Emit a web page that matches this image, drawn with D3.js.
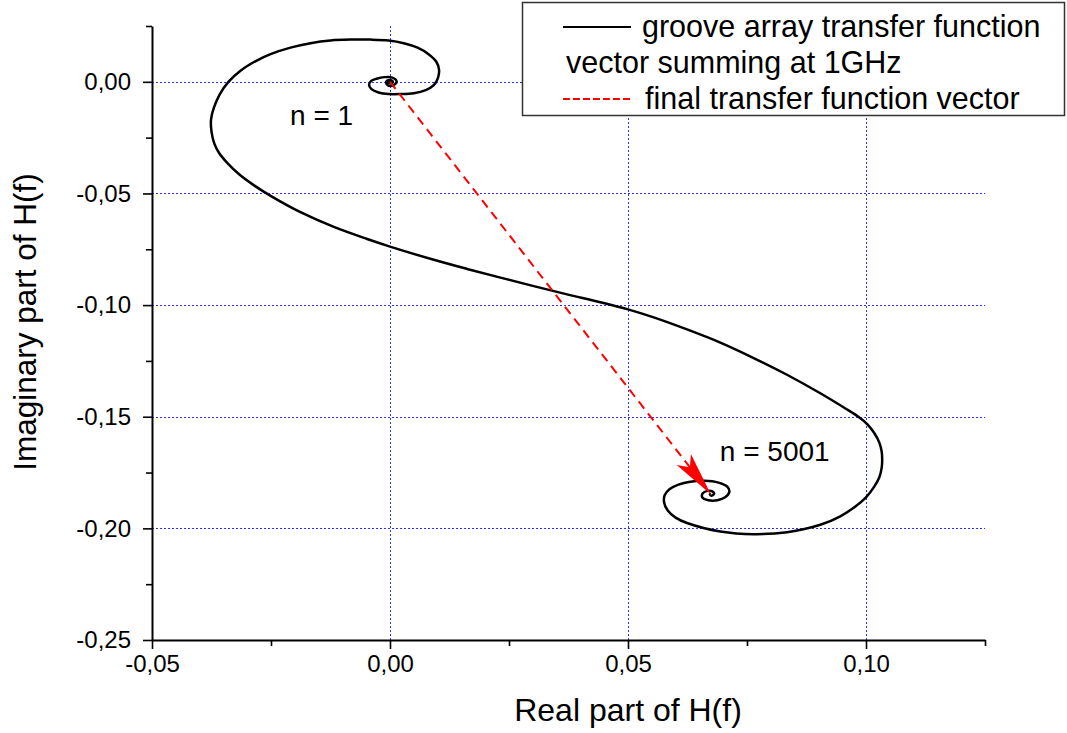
<!DOCTYPE html>
<html>
<head>
<meta charset="utf-8">
<script src="https://cdn.jsdelivr.net/npm/d3@7"></script>
<style>
  body { margin: 0; background: #fff; }
  svg { display: block; font-family: "Liberation Sans", Arial, sans-serif; }
</style>
</head>
<body>
<div class="container"></div>
<script>
const width = 1067;
const height = 733;
const margin = { top: 26, bottom: 93, left: 152, right: 82 };

// curve: real part, imaginary part
const reVals = [
  0.0000, 0.0002, -0.0001, -0.0004, -0.0003, 0.0002, 0.0006, 0.0005, 0.0000, -0.0005, -0.0008,
  -0.0005, 0.0001, 0.0009, 0.0014, 0.0011, 0.0001, -0.0011, -0.0028, -0.0040, -0.0044,
  -0.0039, -0.0024, -0.0003, 0.0022, 0.0050, 0.0075, 0.0092, 0.0101, 0.0103, 0.0097,
  0.0081, 0.0058, 0.0029, -0.0003, -0.0041, -0.0083, -0.0125, -0.0167, -0.0209, -0.0251,
  -0.0282, -0.0314, -0.0339, -0.0358, -0.0370, -0.0376,
  -0.0375, -0.0369, -0.0359, -0.0342, -0.0317, -0.0284, -0.0249, -0.0188, -0.0118, -0.0048,
  0.0000, 0.0092, 0.0162, 0.0232, 0.0302, 0.0372, 0.0442, 0.0500, 0.0554, 0.0624,
  0.0694, 0.0764, 0.0834, 0.0904, 0.0956, 0.0984, 0.1003, 0.1017, 0.1028, 0.1033,
  0.1034, 0.1033, 0.1028, 0.1017, 0.1000, 0.0977, 0.0946, 0.0904, 0.0834,
  0.0764, 0.0694, 0.0624, 0.0600, 0.0584, 0.0576, 0.0577, 0.0587, 0.0606, 0.0631,
  0.0660, 0.0690, 0.0709, 0.0713, 0.0704, 0.0688, 0.0669, 0.0656, 0.0657, 0.0667,
  0.0677, 0.0681, 0.0675, 0.0672, 0.0674
];
const imVals = [
  0.0000, 0.0002, 0.0004, 0.0001, -0.0004, -0.0006, -0.0002, 0.0004, 0.0008, 0.0006, 0.0000,
  -0.0015, -0.0019, -0.0013, -0.0001, 0.0012, 0.0021, 0.0021, 0.0014, 0.0003, -0.0013,
  -0.0033, -0.0048, -0.0055, -0.0055, -0.0051, -0.0037, -0.0015, 0.0019, 0.0055, 0.0091,
  0.0124, 0.0153, 0.0173, 0.0185, 0.0189, 0.0189, 0.0185, 0.0173, 0.0153, 0.0124,
  0.0093, 0.0050, 0.0001, -0.0057, -0.0116, -0.0169,
  -0.0223, -0.0277, -0.0319, -0.0363, -0.0414, -0.0466, -0.0513, -0.0584, -0.0650, -0.0704,
  -0.0738, -0.0797, -0.0838, -0.0877, -0.0915, -0.0952, -0.0987, -0.1019, -0.1055, -0.1109,
  -0.1168, -0.1237, -0.1312, -0.1395, -0.1462, -0.1500, -0.1534, -0.1572, -0.1616, -0.1657,
  -0.1693, -0.1728, -0.1771, -0.1814, -0.1861, -0.1903, -0.1946, -0.1984, -0.2017,
  -0.2026, -0.2014, -0.1976, -0.1952, -0.1921, -0.1885, -0.1852, -0.1825, -0.1804, -0.1791,
  -0.1787, -0.1795, -0.1814, -0.1836, -0.1861, -0.1874, -0.1874, -0.1861, -0.1843, -0.1832,
  -0.1834, -0.1845, -0.1854, -0.1847, -0.1847
];

// final transfer function vector (start, end)
const vectorRe = [0.0, 0.0674];
const vectorIm = [0.0, -0.1847];

const xTicks = [-0.05, 0.0, 0.05, 0.10];
const xMinor = [-0.025, 0.025, 0.075, 0.125];
const yTicks = [0.0, -0.05, -0.10, -0.15, -0.20, -0.25];
const yMinor = [0.025, -0.025, -0.075, -0.125, -0.175, -0.225];

const labelText = ["n = 1", "n = 5001"];
const labelRe = [-0.0210, 0.0693];
const labelIm = [-0.0193, -0.1700];

const legendLines = ["groove array transfer function", "vector summing at 1GHz", "final transfer function vector"];

const xTitle = "Real part of H(f)";
const yTitle = "Imaginary part of H(f)";

const locale = d3.formatLocale({ decimal: ",", thousands: ".", grouping: [3], currency: ["", ""], minus: "-" });
const fmt = locale.format(".2f");

const svg = d3.select(".container")
    .append("svg")
    .attr("width", width)
    .attr("height", height)
    .attr("viewBox", [0, 0, width, height]);

svg.append("rect").attr("width", width).attr("height", height).attr("fill", "#fff");

const xScale = d3.scaleLinear()
    .domain([-0.05, 0.125])
    .range([margin.left, width - margin.right]);

const yScale = d3.scaleLinear()
    .domain([-0.25, 0.025])
    .range([height - margin.bottom, margin.top]);

// grid
const grid = svg.append("g")
    .attr("stroke", "#2f2fff")
    .attr("stroke-width", 1)
    .attr("shape-rendering", "crispEdges")
    .attr("stroke-dasharray", "2,2");

grid.selectAll(".gx")
    .data(xTicks.filter(d => d > -0.05))
    .join("line")
    .attr("x1", d => Math.round(xScale(d)) + 0.5).attr("x2", d => Math.round(xScale(d)) + 0.5)
    .attr("y1", yScale(-0.25)).attr("y2", yScale(0.025));

grid.selectAll(".gy")
    .data(yTicks.filter(d => d > -0.25))
    .join("line")
    .attr("y1", d => Math.round(yScale(d)) + 0.5).attr("y2", d => Math.round(yScale(d)) + 0.5)
    .attr("x1", xScale(-0.05)).attr("x2", xScale(0.125));

// curve
const pts = reVals.map((r, i) => [r, imVals[i]]);
const line = d3.line()
    .x(d => xScale(d[0]))
    .y(d => yScale(d[1]))
    .curve(d3.curveCatmullRom.alpha(0.5));

svg.append("path")
    .datum(pts)
    .attr("d", line)
    .attr("fill", "none")
    .attr("stroke", "#000")
    .attr("stroke-width", 2.5)
    .attr("stroke-linejoin", "round");

// red vector with arrowhead
const x0 = xScale(vectorRe[0]), y0 = yScale(vectorIm[0]);
const x1 = xScale(vectorRe[1]), y1 = yScale(vectorIm[1]);
const len = Math.hypot(x1 - x0, y1 - y0);
const ux = (x1 - x0) / len, uy = (y1 - y0) / len;
const headLen = 44, headHalf = 9, notch = 34;

svg.append("line")
    .attr("x1", x0).attr("y1", y0)
    .attr("x2", x1 - ux * notch).attr("y2", y1 - uy * notch)
    .attr("stroke", "#ff0000")
    .attr("stroke-width", 2)
    .attr("stroke-dasharray", "9,6");

const bx = x1 - ux * headLen, by = y1 - uy * headLen;
svg.append("path")
    .attr("d", `M${x1},${y1} L${bx - uy * headHalf},${by + ux * headHalf} L${x1 - ux * notch},${y1 - uy * notch} L${bx + uy * headHalf},${by - ux * headHalf} Z`)
    .attr("fill", "#ff0000");

// axes
svg.append("g")
    .attr("class", "xaxis")
    .attr("transform", `translate(0, ${yScale(-0.25)})`)
    .call(d3.axisBottom(xScale).tickValues(xTicks).tickFormat(fmt).tickSize(9).tickSizeOuter(0).tickPadding(6));
svg.append("g")
    .attr("transform", `translate(0, ${yScale(-0.25)})`)
    .call(d3.axisBottom(xScale).tickValues(xMinor).tickFormat("").tickSize(6).tickSizeOuter(0))
    .select(".domain").remove();

svg.append("g")
    .attr("class", "yaxis")
    .attr("transform", `translate(${xScale(-0.05)}, 0)`)
    .call(d3.axisLeft(yScale).tickValues(yTicks).tickFormat(fmt).tickSize(9).tickSizeOuter(0).tickPadding(12));
svg.append("g")
    .attr("transform", `translate(${xScale(-0.05)}, 0)`)
    .call(d3.axisLeft(yScale).tickValues(yMinor).tickFormat("").tickSize(6).tickSizeOuter(0))
    .select(".domain").remove();

svg.selectAll(".domain").attr("stroke-width", 2);
svg.selectAll(".tick line").attr("stroke-width", 1.6);
svg.selectAll(".tick text")
    .attr("font-size", 24)
    .attr("font-family", "Liberation Sans, Arial, sans-serif")
    .attr("fill", "#000");

// axis titles
svg.append("text")
    .attr("x", 628)
    .attr("y", 721)
    .attr("text-anchor", "middle")
    .attr("font-size", 32)
    .text(xTitle);

svg.append("text")
    .attr("transform", `translate(36, ${322}) rotate(-90)`)
    .attr("text-anchor", "middle")
    .attr("font-size", 31.5)
    .text(yTitle);

// annotations
svg.selectAll(".ann")
    .data(labelText)
    .join("text")
    .attr("x", (d, i) => xScale(labelRe[i]))
    .attr("y", (d, i) => yScale(labelIm[i]))
    .attr("font-size", 28)
    .text(d => d);

// legend
const legend = svg.append("g");
legend.append("rect")
    .attr("x", 522.5).attr("y", 2.5)
    .attr("width", 542).attr("height", 113)
    .attr("fill", "#fff")
    .attr("stroke", "#333")
    .attr("stroke-width", 1.5);

legend.append("line")
    .attr("x1", 563).attr("x2", 631).attr("y1", 27).attr("y2", 27)
    .attr("stroke", "#000").attr("stroke-width", 2);
legend.append("line")
    .attr("x1", 563).attr("x2", 633).attr("y1", 99).attr("y2", 99)
    .attr("stroke", "#ff0000").attr("stroke-width", 2)
    .attr("stroke-dasharray", "7,3");

legend.append("text").attr("x", 642).attr("y", 37).attr("font-size", 30.5).text(legendLines[0]);
legend.append("text").attr("x", 566).attr("y", 73).attr("font-size", 30.5).text(legendLines[1]);
legend.append("text").attr("x", 645).attr("y", 109).attr("font-size", 30.5).text(legendLines[2]);
</script>
</body>
</html>
